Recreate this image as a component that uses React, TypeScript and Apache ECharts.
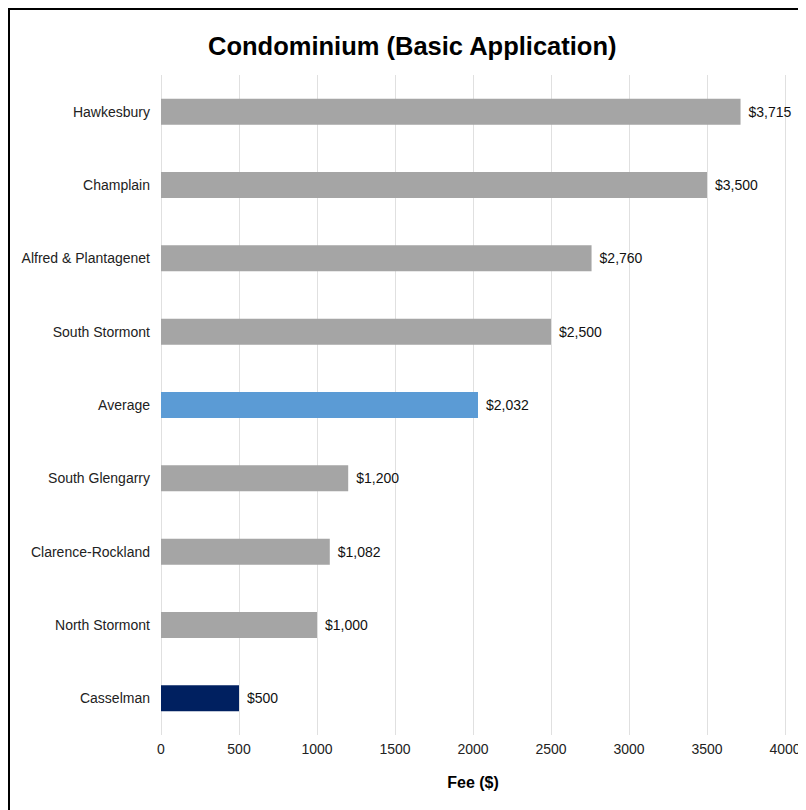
import React, { useEffect, useRef } from "react";
import * as echarts from "echarts";

const categories = [
  "Hawkesbury",
  "Champlain",
  "Alfred & Plantagenet",
  "South Stormont",
  "Average",
  "South Glengarry",
  "Clarence-Rockland",
  "North Stormont",
  "Casselman",
];
const fees = [3715, 3500, 2760, 2500, 2032, 1200, 1082, 1000, 500];
const barColors = [
  "#a5a5a5",
  "#a5a5a5",
  "#a5a5a5",
  "#a5a5a5",
  "#5b9bd5",
  "#a5a5a5",
  "#a5a5a5",
  "#a5a5a5",
  "#002060",
];
const xTicks = { min: 0, max: 4000, interval: 500 };

export default function App() {
  const ref = useRef<HTMLDivElement>(null);
  useEffect(() => {
    document.documentElement.style.overflow = "hidden";
    document.body.style.overflow = "hidden";
    if (!ref.current) return;
    const chart = echarts.init(ref.current, null, { renderer: "svg" });
    const font = "'Liberation Sans', Arial, Helvetica, sans-serif";
    chart.setOption({
      animation: false,
      textStyle: { fontFamily: font },
      title: {
        text: "Condominium (Basic Application)",
        left: 193,
        top: 18,
        textStyle: { fontSize: 25.5, fontWeight: "bold", color: "#000", fontFamily: font },
      },
      grid: { left: 151, right: 21, top: 65, bottom: 75, containLabel: false },
      xAxis: {
        type: "value",
        min: xTicks.min,
        max: xTicks.max,
        interval: xTicks.interval,
        name: "Fee ($)",
        nameLocation: "middle",
        nameGap: 39,
        nameTextStyle: { fontSize: 16, fontWeight: "bold", color: "#000", fontFamily: font },
        axisLine: { show: false },
        axisTick: { show: false },
        axisLabel: {
          fontSize: 14,
          color: "#222",
          margin: 7,
          fontFamily: font,
          formatter: (v: number) => String(v),
        },
        splitLine: { show: true, lineStyle: { color: "#e0e0e0", width: 1 } },
      },
      yAxis: {
        type: "category",
        data: categories,
        inverse: true,
        axisLine: { show: false },
        axisTick: { show: false },
        axisLabel: { fontSize: 14, color: "#222", margin: 11, fontFamily: font },
        splitLine: { show: false },
      },
      series: [
        {
          type: "bar",
          data: fees.map((v, i) => ({ value: v, itemStyle: { color: barColors[i] } })),
          barWidth: 26,
          label: {
            show: true,
            position: "right",
            distance: 8,
            fontSize: 14,
            color: "#111",
            fontFamily: font,
            formatter: (p: any) => "$" + Number(p.value).toLocaleString("en-US"),
          },
        },
      ],
    });
    return () => chart.dispose();
  }, []);
  return (
    <div
      style={{
        width: 798,
        height: 802,
        borderLeft: "2px solid #000",
        borderTop: "2px solid #000",
        boxSizing: "border-box",
        background: "#fff",
      }}
    >
      <div ref={ref} style={{ width: 796, height: 800 }} />
    </div>
  );
}
